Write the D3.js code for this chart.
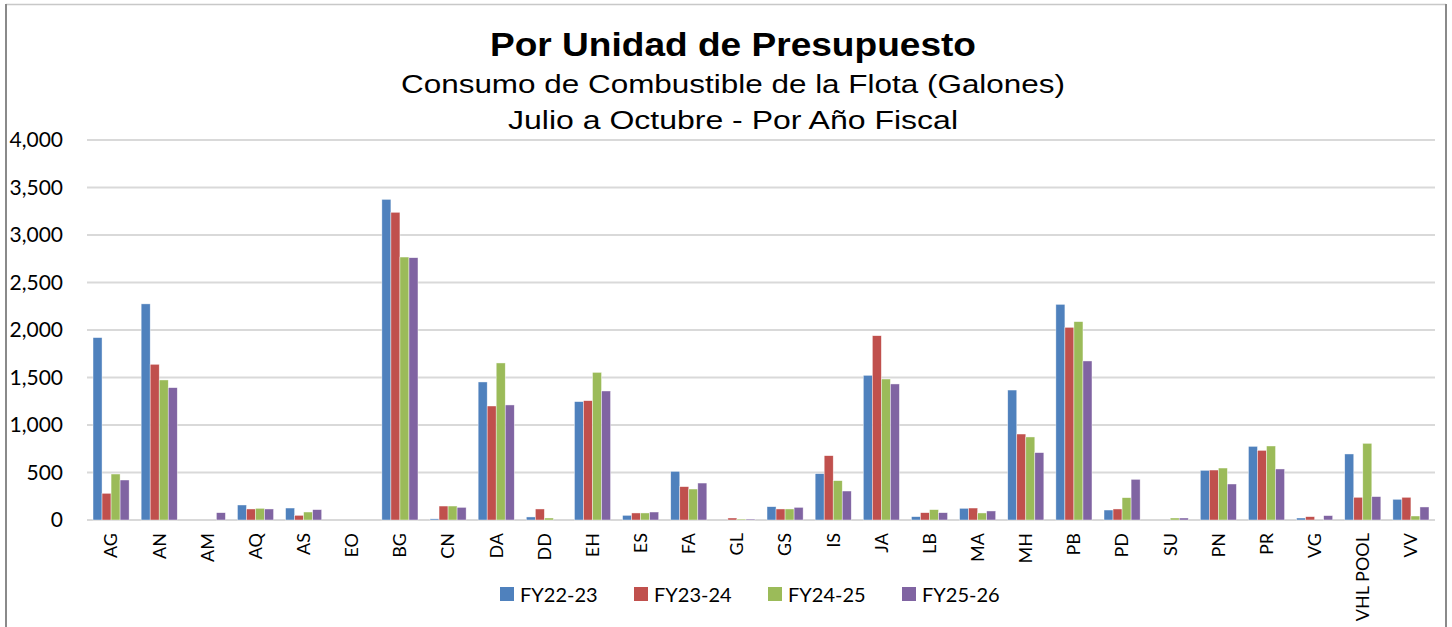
<!DOCTYPE html>
<html>
<head>
<meta charset="utf-8">
<script src="https://cdn.jsdelivr.net/npm/d3@7"></script>
<style>
  body { margin: 0; background: #fff; }
  svg { display: block; }
</style>
</head>
<body>
<div id="chart"></div>
<script>
// categories (unidades de presupuesto)
var categories = ["AG", "AN", "AM", "AQ", "AS", "EO", "BG", "CN", "DA", "DD", "EH", "ES", "FA", "GL",
    "GS", "IS", "JA", "LB", "MA", "MH", "PB", "PD", "SU", "PN", "PR", "VG", "VHL POOL", "VV"];

var seriesNames = ["FY22-23", "FY23-24", "FY24-25", "FY25-26"];

var fy2223 = [1920, 2275, 0, 158, 126, 0, 3375, 12, 1453, 32, 1246, 49, 512, 0,
    140, 488, 1523, 35, 123, 1368, 2270, 105, 0, 523, 775, 21, 695, 218];
var fy2324 = [281, 1639, 0, 116, 49, 0, 3239, 147, 1200, 116, 1256, 74, 351, 21,
    116, 677, 1940, 77, 126, 905, 2028, 116, 0, 526, 733, 35, 239, 239];
var fy2425 = [484, 1474, 0, 123, 84, 0, 2768, 147, 1653, 21, 1554, 74, 326, 10,
    116, 414, 1484, 109, 74, 874, 2088, 235, 21, 547, 779, 0, 807, 42];
var fy2526 = [421, 1393, 77, 116, 109, 0, 2761, 133, 1211, 0, 1358, 84, 389, 10,
    133, 305, 1432, 77, 95, 709, 1674, 428, 21, 379, 537, 46, 246, 137];

var yTicks = [0, 500, 1000, 1500, 2000, 2500, 3000, 3500, 4000];

var seriesValues = [fy2223, fy2324, fy2425, fy2526];
var colors = ["#4F81BD", "#C0504D", "#9BBB59", "#8064A2"];

var width = 1452,
    height = 627;

var svg = d3.select("#chart")
    .append("svg")
    .attr("width", width)
    .attr("height", height);

// chart frame
svg.append("line")
    .attr("x1", 6).attr("x2", 1446).attr("y1", 4.5).attr("y2", 4.5)
    .style("stroke", "#c8c8c8").style("stroke-width", 1.5);
svg.append("line")
    .attr("x1", 6).attr("x2", 6).attr("y1", 4).attr("y2", height)
    .style("stroke", "#8a8a8a").style("stroke-width", 2);
svg.append("line")
    .attr("x1", 1446).attr("x2", 1446).attr("y1", 4).attr("y2", height)
    .style("stroke", "#8a8a8a").style("stroke-width", 2);

// titles (reference glyphs are wider than Arial, so stretch to the measured length)
svg.append("text")
    .attr("x", 733).attr("y", 56)
    .attr("text-anchor", "middle")
    .attr("textLength", 486)
    .attr("lengthAdjust", "spacingAndGlyphs")
    .style("font-family", "Liberation Sans, Arial, sans-serif")
    .style("font-weight", "bold")
    .style("font-size", "34px")
    .text("Por Unidad de Presupuesto");
svg.append("text")
    .attr("x", 733).attr("y", 93)
    .attr("text-anchor", "middle")
    .attr("textLength", 664)
    .attr("lengthAdjust", "spacingAndGlyphs")
    .style("font-family", "Liberation Sans, Arial, sans-serif")
    .style("font-size", "26px")
    .text("Consumo de Combustible de la Flota (Galones)");
svg.append("text")
    .attr("x", 733).attr("y", 129)
    .attr("text-anchor", "middle")
    .attr("textLength", 450)
    .attr("lengthAdjust", "spacingAndGlyphs")
    .style("font-family", "Liberation Sans, Arial, sans-serif")
    .style("font-size", "26px")
    .text("Julio a Octubre - Por Año Fiscal");

var x = d3.scaleBand()
    .domain(categories)
    .range([87, 1435]);

var bw = x.bandwidth();
var xInner = d3.scaleBand()
    .domain(seriesNames)
    .range([bw * 0.125, bw * 0.875]);

var y = d3.scaleLinear()
    .domain([0, 4000])
    .range([520, 140]);

// gridlines
svg.append("g")
    .selectAll("line")
    .data(yTicks)
    .enter()
    .append("line")
    .attr("x1", 87)
    .attr("x2", 1435)
    .attr("y1", function(d) { return y(d); })
    .attr("y2", function(d) { return y(d); })
    .style("stroke", "#d9d9d9")
    .style("stroke-width", 2);

// y axis labels
var yAxis = svg.append("g")
    .attr("transform", "translate(63,0)")
    .call(d3.axisLeft(y).tickValues(yTicks).tickSize(0).tickPadding(0).tickFormat(d3.format(",")));
yAxis.select(".domain").remove();
yAxis.selectAll("text")
    .style("font-family", "Lato, sans-serif")
    .style("font-size", "21px")
    .style("fill", "#000");

// bars
var groups = svg.append("g")
    .selectAll("g")
    .data(seriesNames)
    .enter()
    .append("g")
    .style("fill", function(d, i) { return colors[i]; });

groups.selectAll("rect")
    .data(function(s, i) {
        return categories.map(function(c, j) {
            return { cat: c, series: s, value: seriesValues[i][j] };
        });
    })
    .enter()
    .append("rect")
    .attr("x", function(d) { return x(d.cat) + xInner(d.series); })
    .attr("width", xInner.bandwidth())
    .attr("y", function(d) { return y(d.value); })
    .attr("height", function(d) { return y(0) - y(d.value); })
    .style("stroke", "#fff")
    .style("stroke-width", 0.6)
    .style("stroke-opacity", 0.7);

// x axis labels
var xAxis = svg.append("g")
    .attr("transform", "translate(0,520)")
    .call(d3.axisBottom(x).tickSize(0).tickPadding(0));
xAxis.select(".domain").remove();
xAxis.selectAll("text")
    .attr("transform", "rotate(-90)")
    .attr("x", -13)
    .attr("y", 0)
    .attr("dy", "0.35em")
    .attr("text-anchor", "end")
    .style("font-family", "Lato, sans-serif")
    .style("font-size", "18px")
    .style("fill", "#000");

// legend
var legend = svg.append("g")
    .selectAll("g")
    .data(seriesNames)
    .enter()
    .append("g")
    .attr("transform", function(d, i) { return "translate(" + (500 + i * 134) + ",587)"; });

legend.append("rect")
    .attr("width", 14)
    .attr("height", 14)
    .style("fill", function(d, i) { return colors[i]; });

legend.append("text")
    .attr("x", 20)
    .attr("y", 14.5)
    .style("font-family", "Lato, sans-serif")
    .style("font-size", "20px")
    .style("fill", "#000")
    .text(function(d) { return d; });
</script>
</body>
</html>
